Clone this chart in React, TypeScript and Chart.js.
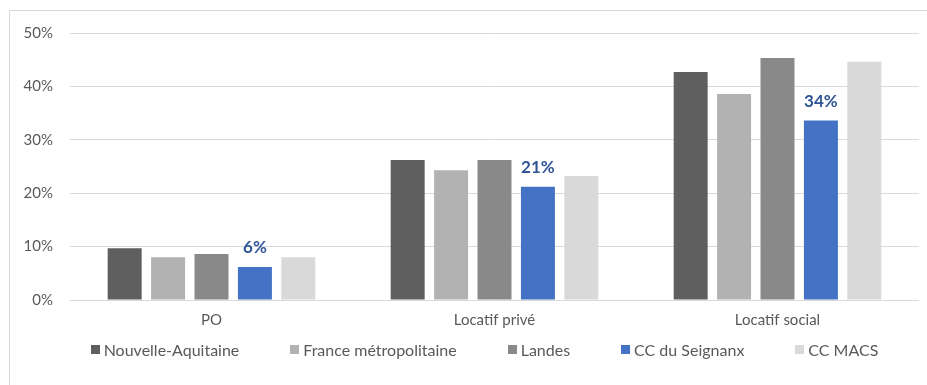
import React, { useEffect, useRef } from "react";
import { Chart, registerables } from "chart.js";

Chart.register(...registerables);

const categories = ["PO", "Locatif privé", "Locatif social"];
const seriesNames = [
  "Nouvelle-Aquitaine",
  "France métropolitaine",
  "Landes",
  "CC du Seignanx",
  "CC MACS",
];
const nouvelleAquitaine = [9.7, 26.2, 42.7];
const franceMetro = [8.0, 24.3, 38.6];
const landes = [8.6, 26.2, 45.3];
const seignanx = [6.2, 21.2, 33.6];
const macs = [8.0, 23.2, 44.6];
const seriesColors = ["#5F5F5F", "#B2B2B2", "#898989", "#4472C4", "#D9D9D9"];
const yTicks = [0, 10, 20, 30, 40, 50];
const labelledSeries = 3;

const FONT = "Lato, 'Liberation Sans', sans-serif";
const TEXT = "#595959";

export default function App() {
  const ref = useRef<HTMLCanvasElement | null>(null);

  useEffect(() => {
    if (!ref.current) return;
    const values = [nouvelleAquitaine, franceMetro, landes, seignanx, macs];

    const dataLabels = {
      id: "dataLabels",
      afterDatasetsDraw(chart: any) {
        const ctx = chart.ctx;
        const meta = chart.getDatasetMeta(labelledSeries);
        ctx.save();
        ctx.font = `bold 17px ${FONT}`;
        ctx.fillStyle = "#2F5597";
        ctx.textAlign = "center";
        ctx.textBaseline = "alphabetic";
        meta.data.forEach((bar: any, i: number) => {
          const v = chart.data.datasets[labelledSeries].data[i];
          ctx.fillText(Math.round(v) + "%", bar.x, bar.y - 14);
        });
        ctx.restore();
      },
    };

    const customLegend = {
      id: "customLegend",
      afterDraw(chart: any) {
        const ctx = chart.ctx;
        ctx.save();
        ctx.font = `16px ${FONT}`;
        const box = 9;
        const gapText = 4;
        const gapItem = 51;
        const ds = chart.data.datasets;
        const widths = ds.map((d: any) => ctx.measureText(d.label).width);
        const total =
          widths.reduce((a: number, w: number) => a + box + gapText + w, 0) +
          gapItem * (ds.length - 1);
        let x = 484.5 - total / 2;
        const yMid = 350;
        ctx.textBaseline = "middle";
        ctx.textAlign = "left";
        ds.forEach((d: any, i: number) => {
          ctx.fillStyle = d.backgroundColor;
          ctx.fillRect(Math.round(x), yMid - 5, box, box);
          ctx.fillStyle = TEXT;
          ctx.fillText(d.label, x + box + gapText, yMid + 1);
          x += box + gapText + widths[i] + gapItem;
        });
        ctx.restore();
      },
    };

    const chart = new Chart(ref.current, {
      type: "bar",
      data: {
        labels: categories,
        datasets: values.map((v, i) => ({
          label: seriesNames[i],
          data: v,
          backgroundColor: seriesColors[i],
          borderWidth: 0,
          categoryPercentage: 0.767,
          barPercentage: 0.783,
        })),
      },
      options: {
        responsive: false,
        animation: false,
        layout: { padding: { left: 10, right: 8, top: 33, bottom: 45 } },
        plugins: {
          legend: { display: false },
          tooltip: { enabled: false },
        },
        scales: {
          x: {
            grid: { display: false, drawTicks: false },
            border: { display: false },
            ticks: {
              color: TEXT,
              font: { family: FONT, size: 15 },
              padding: 11,
            },
          },
          y: {
            min: 0,
            max: 50,
            afterFit(scale: any) {
              scale.width = 60;
            },
            afterBuildTicks(scale: any) {
              scale.ticks = yTicks.map((v) => ({ value: v }));
            },
            grid: { color: "#D9D9D9", lineWidth: 1, drawTicks: false },
            border: { display: false },
            ticks: {
              color: TEXT,
              font: { family: FONT, size: 15 },
              padding: 17,
              callback: (v: any) => v + "%",
            },
          },
        },
      },
      plugins: [dataLabels, customLegend],
    });
    return () => chart.destroy();
  }, []);

  return (
    <div
      style={{
        position: "absolute",
        left: 0,
        top: 0,
        width: 927,
        height: 385,
        background: "#fff",
        overflow: "hidden",
      }}
    >
      <div
        style={{
          position: "absolute",
          left: 9,
          top: 10,
          width: 930,
          height: 400,
          borderLeft: "1px solid #D9D9D9",
          borderTop: "1px solid #D9D9D9",
        }}
      />
      <canvas
        ref={ref}
        width={927}
        height={385}
        style={{ position: "absolute", left: 0, top: 0, width: 927, height: 385 }}
      />
    </div>
  );
}
